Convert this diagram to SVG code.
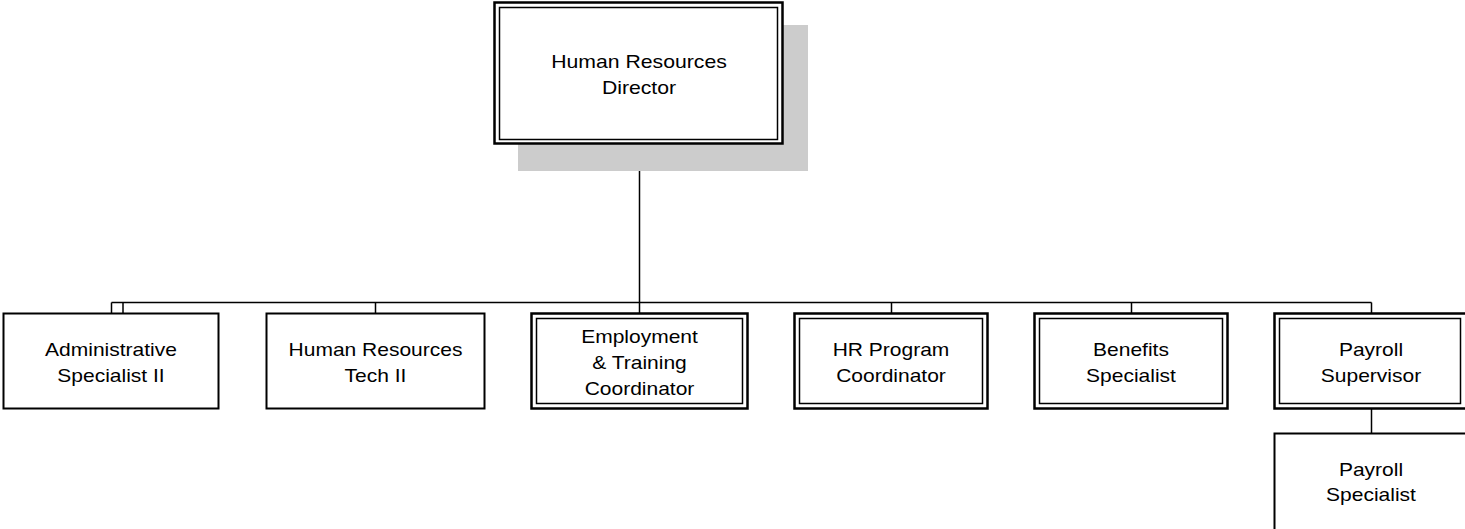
<svg xmlns="http://www.w3.org/2000/svg" width="1465" height="529" viewBox="0 0 1465 529">
<style>
.bg{fill:#ffffff}
.box{fill:#ffffff;stroke:#000;stroke-width:2}
.outer{fill:#ffffff;stroke:#000;stroke-width:2.5}
.inner{fill:none;stroke:#000;stroke-width:1.5}
.shadow{fill:#cccccc}
.conn{fill:none;stroke:#000;stroke-width:1.5}
.t{font-family:"Liberation Sans",Arial,sans-serif;font-size:18.6px;fill:#000;text-anchor:middle}
</style>
<rect class="bg" x="0" y="0" width="1465" height="529"/>
<g id="connectors">
<path class="conn" d="M639.5 144 V302.5 M111.5 302.5 H1371.5 M111.5 302.5 V313 M123 302.5 V313 M375.5 302.5 V313 M639.5 302.5 V313 M891.5 302.5 V313 M1131.5 302.5 V313 M1371.5 302.5 V313 M1371.5 409 V433"/>
</g>
<g id="director">
<rect class="shadow" x="518" y="25" width="290" height="146"/>
<rect class="outer" x="494.5" y="2.5" width="288" height="141"/>
<rect class="inner" x="499.5" y="7.5" width="278" height="132"/>
<g transform="translate(639 0) scale(1.14 1)"><text class="t" x="0" y="68">Human Resources</text><text class="t" x="0" y="94">Director</text></g>
</g>
<g id="admin">
<rect class="box" x="3.5" y="313.5" width="215" height="95"/>
<g transform="translate(111 0) scale(1.13 1)"><text class="t" x="0" y="356.5">Administrative</text><text class="t" x="0" y="382.5">Specialist II</text></g>
</g>
<g id="hrtech">
<rect class="box" x="266.5" y="313.5" width="218" height="95"/>
<g transform="translate(375.5 0) scale(1.13 1)"><text class="t" x="0" y="356.5">Human Resources</text><text class="t" x="0" y="382.5">Tech II</text></g>
</g>
<g id="employment">
<rect class="outer" x="531.5" y="313.5" width="216" height="95"/>
<rect class="inner" x="536.5" y="318.5" width="206" height="85"/>
<g transform="translate(639.5 0) scale(1.13 1)"><text class="t" x="0" y="343">Employment</text><text class="t" x="0" y="369.5">&amp; Training</text><text class="t" x="0" y="395">Coordinator</text></g>
</g>
<g id="hrprogram">
<rect class="outer" x="794.5" y="313.5" width="193" height="95"/>
<rect class="inner" x="799.5" y="318.5" width="183" height="85"/>
<g transform="translate(891 0) scale(1.13 1)"><text class="t" x="0" y="356.5">HR Program</text><text class="t" x="0" y="382">Coordinator</text></g>
</g>
<g id="benefits">
<rect class="outer" x="1034.5" y="313.5" width="193" height="95"/>
<rect class="inner" x="1039.5" y="318.5" width="183" height="85"/>
<g transform="translate(1131 0) scale(1.13 1)"><text class="t" x="0" y="356.5">Benefits</text><text class="t" x="0" y="382">Specialist</text></g>
</g>
<g id="payrollsup">
<rect class="outer" x="1274.5" y="313.5" width="193" height="95"/>
<rect class="inner" x="1279.5" y="318.5" width="181" height="85"/>
<g transform="translate(1371 0) scale(1.13 1)"><text class="t" x="0" y="356.5">Payroll</text><text class="t" x="0" y="382">Supervisor</text></g>
</g>
<g id="payrollspec">
<rect class="box" x="1274.5" y="433.5" width="193" height="100"/>
<g transform="translate(1371 0) scale(1.13 1)"><text class="t" x="0" y="476">Payroll</text><text class="t" x="0" y="501.5">Specialist</text></g>
</g>
</svg>
